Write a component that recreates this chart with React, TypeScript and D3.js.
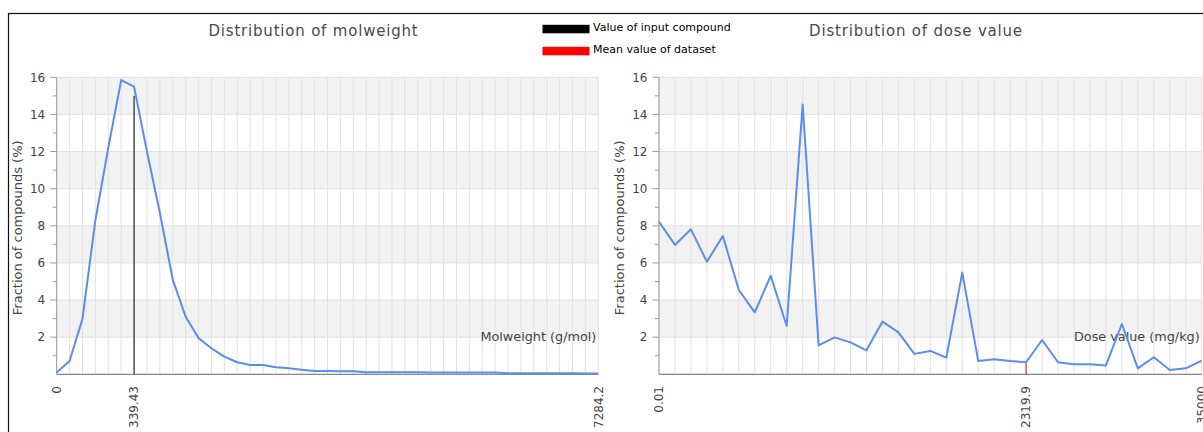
import React from "react";
import * as d3 from "d3";

// ---- data ----
const molFractions = [
  0.1, 0.72, 3.0, 8.3, 12.2, 15.85, 15.5, 12.0, 8.7, 5.1, 3.1, 1.95, 1.4, 0.95, 0.65,
  0.5, 0.5, 0.38, 0.32, 0.24, 0.18, 0.18, 0.17, 0.17,
  0.11, 0.11, 0.11, 0.11, 0.11, 0.1, 0.1, 0.1, 0.1, 0.1, 0.1,
  0.05, 0.05, 0.05, 0.05, 0.05, 0.05, 0.04, 0.04,
];
const doseFractions = [
  8.22, 6.97, 7.81, 6.07, 7.45, 4.54, 3.34, 5.31, 2.6, 14.54, 1.56, 1.99, 1.72, 1.29,
  2.84, 2.26, 1.1, 1.26, 0.9, 5.48, 0.72, 0.81, 0.72, 0.65, 1.85, 0.65, 0.54, 0.54,
  0.48, 2.71, 0.32, 0.92, 0.23, 0.32, 0.74,
];
const molTickIndex = [0, 6, 42];
const molTickLabels = ["0", "339.43", "7284.2"];
const doseTickIndex = [0, 23, 34];
const doseTickLabels = ["0.01", "2319.9", "35000"];
const inputCompoundIndex = 6;
const inputCompoundValue = 15.0;
const datasetMeanIndex = 23;
const datasetMeanValue = 0.6;
const yTicks = [2, 4, 6, 8, 10, 12, 14, 16];
const yMinorTicks = [1, 3, 5, 7, 9, 11, 13, 15];
const legendLabels = ["Value of input compound", "Mean value of dataset"];
const legendColors = ["#000000", "#ff0000"];

const FONT = "DejaVu Sans, Verdana, sans-serif";
const TEXT = "#444444";
const TOP = 77.3;
const BOTTOM = 374.3;

type PanelProps = {
  values: number[];
  x0: number;
  x1: number;
  title: string;
  titleX: number;
  axisLabel: string;
  tickIndex: number[];
  tickLabels: string[];
  markerIndex: number;
  markerValue: number;
  markerColor: string;
  yTitleX: number;
};

function Panel(p: PanelProps) {
  const idx = p.values.map((_, i) => i);
  const x = d3.scalePoint<number>().domain(idx).range([p.x0, p.x1]);
  const y = d3.scaleLinear().domain([0, 16]).range([BOTTOM, TOP]);
  const line = d3
    .line<number>()
    .x((_, i) => x(i) as number)
    .y((d) => y(d));
  const bands = [2, 6, 10, 14];
  const mx = x(p.markerIndex) as number;
  return (
    <g>
      {bands.map((b) => (
        <rect key={"b" + b} x={p.x0} y={y(b + 2)} width={p.x1 - p.x0} height={y(b) - y(b + 2)} fill="#f2f2f2" />
      ))}
      {yTicks.map((t) => (
        <line key={"h" + t} x1={p.x0} x2={p.x1} y1={y(t)} y2={y(t)} stroke="#e0e0e0" strokeWidth={1} />
      ))}
      {idx.map((i) => (
        <line key={"v" + i} x1={x(i)} x2={x(i)} y1={TOP} y2={BOTTOM} stroke="#e2e2e2" strokeWidth={1} />
      ))}
      {/* y axis */}
      <line x1={p.x0} x2={p.x0} y1={TOP} y2={BOTTOM} stroke="#999" strokeWidth={1} />
      {yTicks.map((t) => (
        <g key={"yt" + t}>
          <line x1={p.x0 - 6.5} x2={p.x0} y1={y(t)} y2={y(t)} stroke="#999" strokeWidth={1} />
          <text x={p.x0 - 11.5} y={y(t)} dy="0.36em" textAnchor="end" fontFamily={FONT} fontSize={12} fill={TEXT}>
            {t}
          </text>
        </g>
      ))}
      {yMinorTicks.map((t) => (
        <line key={"ym" + t} x1={p.x0 - 4} x2={p.x0} y1={y(t)} y2={y(t)} stroke="#999" strokeWidth={1} />
      ))}
      <text
        transform={`translate(${p.yTitleX},${(TOP + BOTTOM) / 2 + 2}) rotate(-90)`}
        textAnchor="middle"
        fontFamily={FONT}
        fontSize={13}
        fill={TEXT}
      >
        Fraction of compounds (%)
      </text>
      {/* x axis */}
      <line x1={p.x0} x2={p.x1} y1={BOTTOM} y2={BOTTOM} stroke="#888" strokeWidth={1.2} />
      {p.tickIndex.map((ti, k) => (
        <text
          key={"xt" + ti}
          transform={`translate(${(x(ti) as number) + 4.3},386) rotate(-90)`}
          textAnchor="end"
          fontFamily={FONT}
          fontSize={12}
          fill={TEXT}
        >
          {p.tickLabels[k]}
        </text>
      ))}
      <text x={p.x1 - 2} y={340.5} textAnchor="end" fontFamily={FONT} fontSize={12.8} fill={TEXT}>
        {p.axisLabel}
      </text>
      <path d={line(p.values) || ""} fill="none" stroke="#5b8def" strokeWidth={2} strokeLinejoin="round" />
      <line x1={mx} x2={mx} y1={BOTTOM} y2={y(p.markerValue)} stroke={p.markerColor} strokeWidth={1} />
      <text x={p.titleX} y={36} textAnchor="middle" fontFamily={FONT} fontSize={15} letterSpacing={0.8} fill="#4a4a4a">
        {p.title}
      </text>
    </g>
  );
}

export default function App() {
  return (
    <svg
      width={1203}
      height={432}
      style={{ position: "absolute", left: 0, top: 0, display: "block", background: "#fff" }}
    >
      <rect x={0} y={0} width={1203} height={432} fill="#fff" />
      <rect x={8.5} y={13.5} width={1400} height={600} fill="#fff" stroke="#111" strokeWidth={1.2} />
      <Panel
        values={molFractions}
        x0={56.7}
        x1={598.3}
        title="Distribution of molweight"
        titleX={313.5}
        axisLabel="Molweight (g/mol)"
        tickIndex={molTickIndex}
        tickLabels={molTickLabels}
        markerIndex={inputCompoundIndex}
        markerValue={inputCompoundValue}
        markerColor="#000"
        yTitleX={21.5}
      />
      <Panel
        values={doseFractions}
        x0={659}
        x1={1201.7}
        title="Distribution of dose value"
        titleX={916}
        axisLabel="Dose value (mg/kg)"
        tickIndex={doseTickIndex}
        tickLabels={doseTickLabels}
        markerIndex={datasetMeanIndex}
        markerValue={datasetMeanValue}
        markerColor="#ff0000"
        yTitleX={623.5}
      />
      {legendLabels.map((lab, i) => (
        <g key={lab}>
          <rect x={542.5} y={24.8 + i * 22} width={47} height={8.5} fill={legendColors[i]} />
          <text x={593} y={31 + i * 22.3} fontFamily={FONT} fontSize={11} fill="#000">
            {lab}
          </text>
        </g>
      ))}
    </svg>
  );
}
